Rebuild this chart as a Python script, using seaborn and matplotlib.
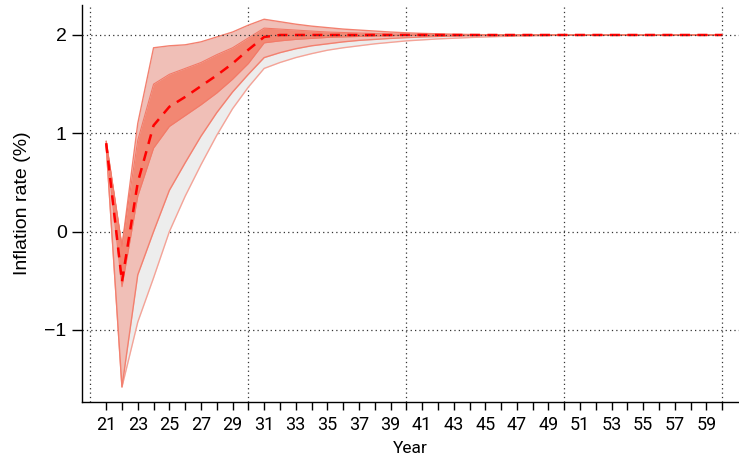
import numpy as np
import pandas as pd
import matplotlib
matplotlib.use('Agg')
import matplotlib.pyplot as plt
from matplotlib import font_manager
import seaborn as sns

years = list(range(21, 61))

median = [0.9, -0.51, 0.50, 1.08, 1.27, 1.37, 1.48, 1.59, 1.71, 1.85, 1.98] + [2.0] * 29

mid_top = [0.92, -0.15, 0.93, 1.50, 1.60, 1.66, 1.72, 1.80, 1.87, 1.97, 2.07,
           2.06, 2.05, 2.04, 2.03, 2.025, 2.02, 2.015, 2.01, 2.008, 2.005,
           2.003, 2.002] + [2.0] * 17
mid_bot = [0.88, -0.56, 0.36, 0.85, 1.07, 1.18, 1.29, 1.41, 1.55, 1.71, 1.92,
           1.94, 1.955, 1.965, 1.975, 1.98, 1.985, 1.99, 1.992, 1.995, 1.997,
           1.998] + [2.0] * 18

outer_top = [0.92, -0.15, 1.10, 1.87, 1.89, 1.90, 1.93, 1.98, 2.03, 2.10, 2.16,
             2.135, 2.11, 2.09, 2.075, 2.06, 2.05, 2.04, 2.03, 2.022, 2.016,
             2.012, 2.008, 2.005, 2.003, 2.002, 2.001] + [2.0] * 13
outer_bot = [0.88, -1.58, -0.44, 0.0, 0.42, 0.70, 0.97, 1.21, 1.42, 1.60, 1.77,
             1.82, 1.86, 1.89, 1.91, 1.93, 1.945, 1.955, 1.965, 1.973, 1.98,
             1.985, 1.99, 1.993, 1.995, 1.997, 1.998, 1.999] + [2.0] * 12

grey_bot = [0.88, -1.58, -0.92, -0.47, 0.0, 0.36, 0.68, 0.98, 1.25, 1.47, 1.66,
            1.72, 1.77, 1.81, 1.845, 1.87, 1.89, 1.91, 1.925, 1.94, 1.95,
            1.96, 1.967, 1.974, 1.98, 1.985, 1.989, 1.992, 1.995, 1.997, 1.998,
            1.999] + [2.0] * 8

df = pd.DataFrame({'Year': years, 'median': median, 'mid_top': mid_top,
                   'mid_bot': mid_bot, 'outer_top': outer_top,
                   'outer_bot': outer_bot, 'grey_bot': grey_bot})

sns.set_style('ticks', {'text.color': 'black', 'axes.labelcolor': 'black',
                        'xtick.color': 'black', 'ytick.color': 'black',
                        'axes.edgecolor': 'black'})
plt.rcParams['font.family'] = ['Liberation Sans', 'DejaVu Sans']

# condensed font for the x axis if one is around
installed = {f.name for f in font_manager.fontManager.ttflist}
if 'Liberation Sans Narrow' in installed:
    narrow, xsize = 'Liberation Sans Narrow', 14
elif 'DejaVu Sans Condensed' in installed:
    narrow, xsize = 'DejaVu Sans Condensed', 12.5
else:
    narrow, xsize = 'Roboto', 13

fig = plt.figure(figsize=(7.39, 4.58), dpi=100)
ax = fig.add_axes([82 / 739, 56 / 458, 657 / 739, 397 / 458])

# grey band under the pink one
ax.fill_between(df['Year'], df['grey_bot'], df['outer_top'], color='#ededed', lw=0, zorder=2)
sns.lineplot(x='Year', y='grey_bot', data=df, color='#f5a397', lw=1, ax=ax, zorder=3)

# outer band
ax.fill_between(df['Year'], df['outer_bot'], df['outer_top'], color='#f0bfb7', lw=0, zorder=4)
sns.lineplot(x='Year', y='outer_bot', data=df, color='#f3806f', lw=1, ax=ax, zorder=5)
sns.lineplot(x='Year', y='outer_top', data=df, color='#f3806f', lw=1, ax=ax, zorder=5)

# inner band
ax.fill_between(df['Year'], df['mid_bot'], df['mid_top'], color='#f28773', lw=0, zorder=6)
sns.lineplot(x='Year', y='mid_bot', data=df, color='#f37a68', lw=0.8, ax=ax, zorder=7)
sns.lineplot(x='Year', y='mid_top', data=df, color='#f37a68', lw=0.8, ax=ax, zorder=7)

# median
sns.lineplot(x='Year', y='median', data=df, color='#ff0000', lw=1.8,
             linestyle=(0, (4, 3)), ax=ax, zorder=8)

ax.set_xlim(19.47, 61.06)
ax.set_ylim(-1.733, 2.305)

ax.set_xticks(range(21, 61))
ax.set_xticklabels([str(y) if y % 2 == 1 else '' for y in range(21, 61)],
                   family=[narrow, 'DejaVu Sans'], fontsize=xsize)
ax.set_yticks([-1, 0, 1, 2])
ax.set_yticklabels(['\u22121', '0', '1', '2'], fontsize=14)
ax.tick_params(axis='x', length=6, width=1, pad=4)
ax.tick_params(axis='y', length=7, width=1, pad=4)

for v in [20, 30, 40, 50, 60]:
    ax.axvline(v, color='#333333', lw=0.9, ls=(0, (1, 2.5)), zorder=1)
for h in [-1, 0, 1, 2]:
    ax.axhline(h, color='#333333', lw=0.9, ls=(0, (1, 2.5)), zorder=9 if h == 2 else 1)

sns.despine(ax=ax)
ax.spines['left'].set_linewidth(1)
ax.spines['bottom'].set_linewidth(1)

ax.set_xlabel('Year', family=[narrow, 'DejaVu Sans'], fontsize=12.5, labelpad=5)
ax.set_ylabel('Inflation rate (%)', fontsize=14, labelpad=10)

fig.savefig('out.png', dpi=100)
